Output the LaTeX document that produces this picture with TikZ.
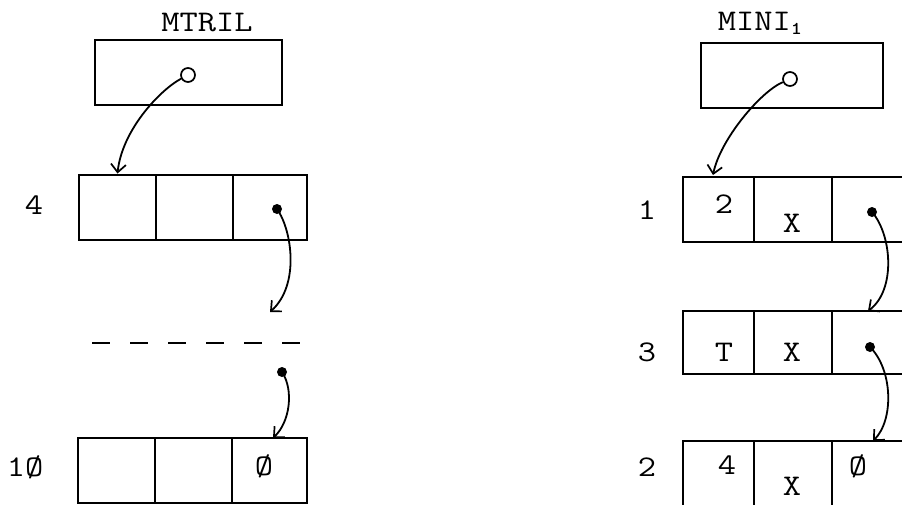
\documentclass[tikz,border=0pt]{standalone}
\usepackage{graphicx}
\usetikzlibrary{arrows.meta}
\newcommand\tw[1]{\scalebox{1.18}[1]{\ttfamily\fontsize{30}{32}\selectfont #1}}
\tikzset{
  cell/.style={draw, line width=2pt, minimum width=#1, minimum height=65pt, inner sep=0pt},
  cell/.default=76pt,
  txt/.style={inner sep=0pt},
  dot/.style={circle, fill=black, minimum size=10pt, inner sep=0pt},
  odot/.style={circle, draw, line width=1.7pt, fill=white, minimum size=14pt, inner sep=0pt},
  link/.style={line width=1.8pt, -{Straight Barb[length=8pt,width=15pt,line width=1.7pt]}},
}
\begin{document}
\begin{tikzpicture}[x=1pt,y=-1pt]
\useasboundingbox (0,0) rectangle (902,504);
\clip (0,0) rectangle (902,504);
% ---------- left: MTRIL ----------
\node[txt] (tmtril) at (207,23) {\tw{MTRIL}};
\node[cell=187pt] (bmtril) at (188.5,72.5) {};
\node[odot] (cm) at (188,75) {};
\node[txt] (l4) at (34,205) {\tw{4}};
\node[cell=77pt] (r4a) at (117.5,207) {};
\node[cell=77pt] (r4b) at (194.5,207) {};
\node[cell=74pt] (r4c) at (270,207) {};
\node[dot] (d4) at (277,209) {};
\coordinate (e4) at (270,312);
\draw[line width=1.8pt, dash pattern=on 18pt off 20pt] (92,343) -- (300,343);
\node[dot] (dx) at (282,372) {};
\node[txt] (l10) at (25,467) {\tw{1Ø}};
\node[cell=77pt] (r10a) at (116.5,470) {};
\node[cell=77pt] (r10b) at (193.5,470) {};
\node[cell=75pt] (r10c) at (269.5,470) {};
\node[txt] (v10c) at (264,466) {\tw{Ø}};
\draw[link] (cm) .. controls (160,90) and (122,130) .. (r4a.north);
\draw[link] (d4.center) .. controls (292,230) and (300,285) .. (e4);
\draw[link] (dx.center) .. controls (294,390) and (290,422) .. (273,438);
% ---------- right: MINI1 ----------
\node[txt] (tmini) at (760,23) {\tw{MINI\raisebox{-0.3ex}{\fontsize{18}{19}\selectfont\bfseries 1}}};
\node[cell=182pt] (bmini) at (792,75.5) {};
\node[odot] (cn) at (790,79) {};
\node[txt] (l1) at (647,210) {\tw{1}};
\node[cell=71pt] (r1a) at (718.5,209) {};
\node[cell=78pt] (r1b) at (793,209) {};
\node[cell=78pt] (r1c) at (871,209) {};
\node[txt] (v1a) at (724,204) {\tw{2}};
\node[txt] (v1b) at (792,223) {\tw{X}};
\node[dot] (d1) at (872,212) {};
\node[txt] (l3) at (647,352) {\tw{3}};
\node[cell=71pt, minimum height=63pt] (r3a) at (718.5,342.5) {};
\node[cell=78pt, minimum height=63pt] (r3b) at (793,342.5) {};
\node[cell=78pt, minimum height=63pt] (r3c) at (871,342.5) {};
\node[txt] (v3a) at (724,352) {\tw{T}};
\node[txt] (v3b) at (792,352) {\tw{X}};
\node[dot] (d3) at (870,347) {};
\node[txt] (l2) at (647,467) {\tw{2}};
\node[cell=71pt] (r2a) at (718.5,473.5) {};
\node[cell=78pt] (r2b) at (793,473.5) {};
\node[cell=78pt] (r2c) at (871,473.5) {};
\node[txt] (v2a) at (727,465) {\tw{4}};
\node[txt] (v2b) at (792,486) {\tw{X}};
\node[txt] (v2c) at (858,466) {\tw{Ø}};
\draw[link] (cn) .. controls (760,92) and (720,140) .. (713,175);
\draw[link] (d1.center) .. controls (892,235) and (896,290) .. (868,311);
\draw[link] (d3.center) .. controls (893,370) and (894,420) .. (873,441);
\end{tikzpicture}
\end{document}
